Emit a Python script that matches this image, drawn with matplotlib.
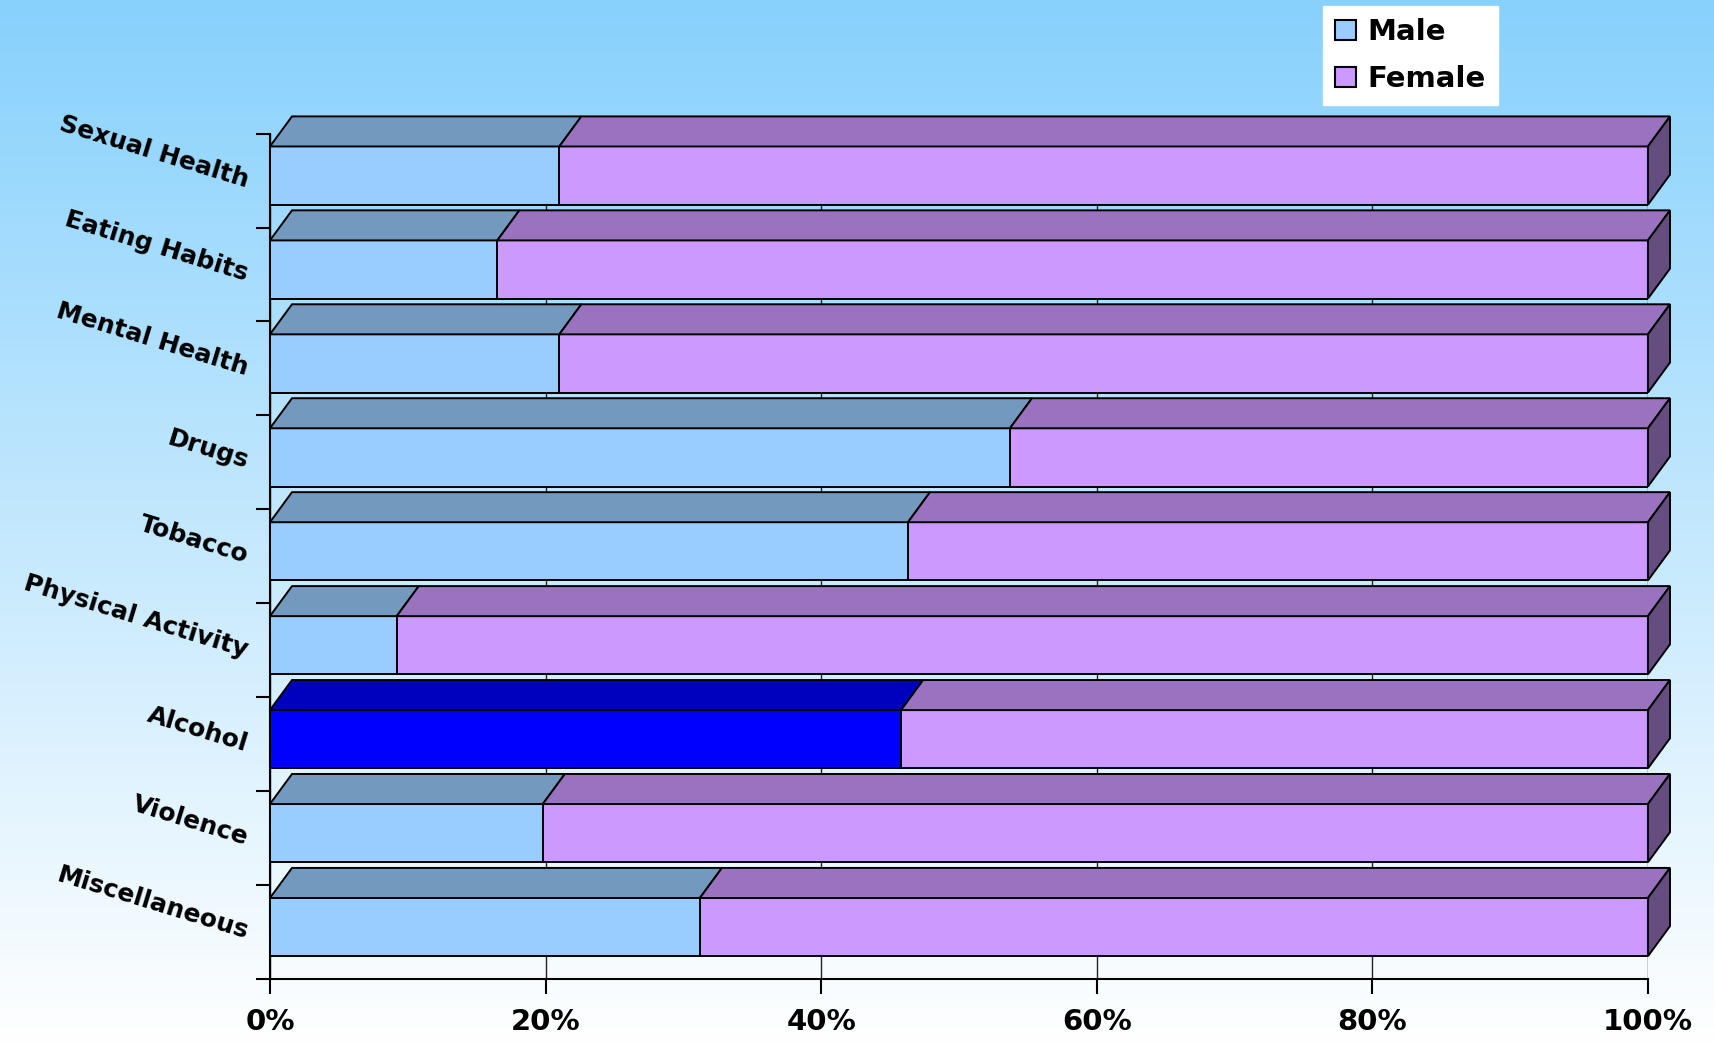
import numpy as np
import matplotlib
matplotlib.use('Agg')
import matplotlib.pyplot as plt
from matplotlib.patches import Polygon, Patch

categories = ["Sexual Health", "Eating Habits", "Mental Health", "Drugs", "Tobacco",
              "Physical Activity", "Alcohol", "Violence", "Miscellaneous"]
male = [21.0, 16.5, 21.0, 53.7, 46.3, 9.2, 45.8, 19.8, 31.2]
female = [79.0, 83.5, 79.0, 46.3, 53.7, 90.8, 54.2, 80.2, 68.8]
highlight = "Alcohol"
x_ticks = [0, 20, 40, 60, 80, 100]
x_tick_labels = ["0%", "20%", "40%", "60%", "80%", "100%"]

male_front, male_top = "#99CCFF", "#7399BF"
female_front, female_top, female_side = "#CC99FF", "#9973BF", "#664D80"
hl_front, hl_top = "#0000FF", "#0000BF"

# 3d look: depth in data units
depth_x = 1.6
depth_y = 0.32
bar_h = 0.62
shift = 0.053

fig = plt.figure(figsize=(17.15, 10.47), dpi=100)

# background gradient
bg = fig.add_axes([0, 0, 1, 1], zorder=-1)
top_c = np.array([0.53, 0.82, 0.99])
bot_c = np.array([1.0, 1.0, 1.0])
t = np.linspace(0, 1, 256)[:, None, None]
bg.imshow(top_c + (bot_c - top_c) * t, aspect='auto', extent=[0, 1, 0, 1])
bg.axis('off')

ax = fig.add_axes([0.1574, 0.0649, 0.8035, 0.8075])
ax.patch.set_alpha(0)

y = np.arange(len(categories))
yc = y - shift
fronts = [hl_front if c == highlight else male_front for c in categories]
tops = [hl_top if c == highlight else male_top for c in categories]

ax.barh(yc, male, height=bar_h, color=fronts, edgecolor='black', linewidth=1.4, zorder=3)
ax.barh(yc, female, height=bar_h, left=male, color=female_front, edgecolor='black',
        linewidth=1.4, zorder=3)

for i in range(len(categories)):
    m = male[i]
    end = male[i] + female[i]
    top = yc[i] - bar_h / 2
    ax.add_patch(Polygon([(0, top), (m, top), (m + depth_x, top - depth_y), (depth_x, top - depth_y)],
                         closed=True, facecolor=tops[i], edgecolor='black', lw=1.4,
                         zorder=3, clip_on=False))
    ax.add_patch(Polygon([(m, top), (end, top), (end + depth_x, top - depth_y), (m + depth_x, top - depth_y)],
                         closed=True, facecolor=female_top, edgecolor='black', lw=1.4,
                         zorder=3, clip_on=False))
    ax.add_patch(Polygon([(end, top), (end + depth_x, top - depth_y),
                          (end + depth_x, top + bar_h - depth_y), (end, top + bar_h)],
                         closed=True, facecolor=female_side, edgecolor='black', lw=1.4,
                         zorder=3, clip_on=False))

ax.set_xlim(0, 100)
ax.set_ylim(len(categories) - 0.5, -0.5)

ax.set_xticks(x_ticks, labels=x_tick_labels)
ax.set_yticks(np.arange(-0.5, len(categories), 1), labels=[])
ax.set_yticks(y, labels=categories, minor=True)

ax.tick_params(axis='x', length=11, width=1.5, pad=10, labelsize=21)
ax.tick_params(axis='y', which='major', length=10, width=1.5)
ax.tick_params(axis='y', which='minor', length=0, pad=16, labelsize=18)
for lab in ax.get_xticklabels():
    lab.set_fontweight('bold')
for lab in ax.get_yticklabels(minor=True):
    lab.set_fontweight('bold')
    lab.set_rotation(-17)
    lab.set_ha('right')
    lab.set_va('center')
    lab.set_rotation_mode('anchor')

ax.xaxis.grid(True, color='#222222', linewidth=1)
ax.set_axisbelow(True)
for s in ['top', 'right']:
    ax.spines[s].set_visible(False)
for s in ['left', 'bottom']:
    ax.spines[s].set_linewidth(1.5)

handles = [Patch(facecolor=male_front, edgecolor='black', linewidth=1.5, label='Male'),
           Patch(facecolor=female_front, edgecolor='black', linewidth=1.5, label='Female')]
leg = fig.legend(handles=handles, loc='upper left', bbox_to_anchor=(0.7714, 0.9943),
                 prop={'weight': 'bold', 'size': 21}, handlelength=0.7, handleheight=0.7,
                 handletextpad=0.4, labelspacing=0.65, borderpad=0.42, borderaxespad=0,
                 fancybox=False, framealpha=1, facecolor='white', edgecolor='white')

plt.savefig("out.png", dpi=100)
